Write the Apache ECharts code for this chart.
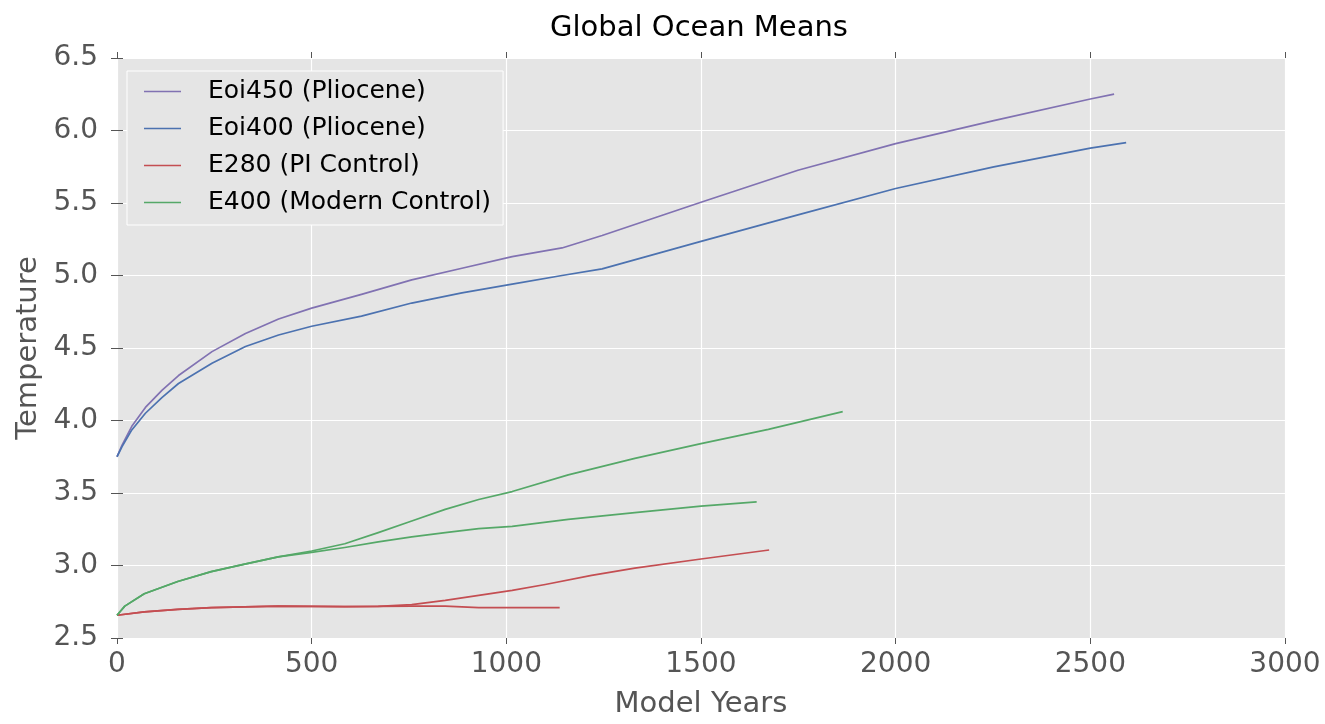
<!DOCTYPE html>
<html>
<head>
<meta charset="utf-8">
<script src="https://cdn.jsdelivr.net/npm/echarts@6/dist/echarts.min.js"></script>
<style>
html,body{margin:0;padding:0;background:#fff;}
#chart{width:1325px;height:724px;}
</style>
</head>
<body>
<div id="chart"></div>
<script>
// ---- data ----
const xTicks = [0, 500, 1000, 1500, 2000, 2500, 3000];
const yTicks = [2.5, 3.0, 3.5, 4.0, 4.5, 5.0, 5.5, 6.0, 6.5];

const seriesNames = ['Eoi450 (Pliocene)', 'Eoi400 (Pliocene)', 'E280 (PI Control)', 'E400 (Modern Control)'];

const yearsEoi450 = [0, 13, 38, 73, 116, 158, 244, 330, 415, 500, 628, 757, 886, 1015, 1143, 1246, 1500, 1749, 2000, 2252, 2500, 2561];
const tempEoi450  = [3.75, 3.83, 3.96, 4.09, 4.21, 4.31, 4.475, 4.60, 4.70, 4.775, 4.87, 4.97, 5.05, 5.13, 5.19, 5.276, 5.505, 5.726, 5.909, 6.068, 6.217, 6.251];

const yearsEoi400 = [0, 13, 38, 73, 116, 158, 244, 330, 415, 500, 628, 757, 886, 1015, 1143, 1246, 1500, 1749, 2000, 2252, 2500, 2592];
const tempEoi400  = [3.75, 3.82, 3.935, 4.05, 4.16, 4.255, 4.395, 4.51, 4.59, 4.65, 4.72, 4.81, 4.88, 4.94, 5.00, 5.046, 5.235, 5.418, 5.60, 5.749, 5.879, 5.916];

const yearsE280a = [0, 70, 156, 242, 414, 500, 585, 671, 757, 843, 929, 1015, 1100, 1219, 1330, 1500, 1675];
const tempE280a  = [2.657, 2.68, 2.698, 2.709, 2.72, 2.718, 2.716, 2.718, 2.73, 2.759, 2.794, 2.828, 2.869, 2.932, 2.982, 3.045, 3.107];

const yearsE280b = [0, 70, 156, 242, 414, 500, 585, 671, 757, 843, 929, 1015, 1137];
const tempE280b  = [2.657, 2.68, 2.698, 2.709, 2.72, 2.718, 2.716, 2.718, 2.72, 2.72, 2.709, 2.709, 2.709];

const yearsE400a = [0, 20, 70, 156, 242, 328, 414, 500, 585, 671, 757, 843, 929, 1015, 1159, 1330, 1500, 1673, 1864];
const tempE400a  = [2.657, 2.72, 2.805, 2.89, 2.958, 3.01, 3.06, 3.10, 3.15, 3.227, 3.307, 3.387, 3.455, 3.51, 3.625, 3.739, 3.841, 3.939, 4.061];

const yearsE400b = [0, 20, 70, 156, 242, 328, 414, 500, 585, 671, 757, 843, 929, 1015, 1159, 1330, 1500, 1643];
const tempE400b  = [2.657, 2.72, 2.805, 2.89, 2.958, 3.01, 3.06, 3.09, 3.124, 3.163, 3.197, 3.227, 3.254, 3.27, 3.318, 3.364, 3.409, 3.439];

const colors = ['#8172B2', '#4C72B0', '#C44E52', '#55A868'];

// ---- chart ----
const FONT = 'DejaVu Sans';
function pairs(xs, ys) { return xs.map((x, i) => [x, ys[i]]); }

function lineSeries(name, color, xs, ys) {
  return {
    type: 'line', name: name, xAxisIndex: 0, yAxisIndex: 0,
    data: pairs(xs, ys), symbol: 'none', showSymbol: false,
    smooth: false,
    lineStyle: { color: color, width: 1.7, join: 'round' }, itemStyle: { color: color },
    animation: false, z: 3
  };
}

const axisCommonX = {
  type: 'value', min: xTicks[0], max: xTicks[xTicks.length - 1], interval: 500
};
const axisCommonY = {
  type: 'value', min: yTicks[0], max: yTicks[yTicks.length - 1], interval: 0.5
};
const tickStyle = { show: true, inside: false, length: 6, lineStyle: { color: '#555555', width: 1 } };

const chart = echarts.init(document.getElementById('chart'), null, { renderer: 'canvas' });
chart.setOption({
  animation: false,
  backgroundColor: '#ffffff',
  textStyle: { fontFamily: FONT },
  title: {
    text: 'Global Ocean Means',
    left: 699, top: 14, textAlign: 'center', padding: 0,
    textStyle: { fontFamily: FONT, fontSize: 29, fontWeight: 'normal', color: '#000000' }
  },
  grid: {
    left: 117, right: 40, top: 58, bottom: 81,
    show: true, backgroundColor: '#E5E5E5', borderWidth: 0
  },
  legend: {
    orient: 'vertical', left: 127, top: 71,
    padding: [8, 12, 10, 17],
    itemWidth: 37, itemHeight: 20, itemGap: 12,
    icon: 'path://M0,0 L37,0 L37,1.7 L0,1.7 Z',
    backgroundColor: '#E5E5E5', borderColor: '#ffffff', borderWidth: 1,
    data: seriesNames,
    textStyle: { fontFamily: FONT, fontSize: 25, lineHeight: 25, color: '#000000', padding: [0, 0, 0, 22] }
  },
  xAxis: [
    Object.assign({}, axisCommonX, {
      position: 'bottom',
      axisLine: { show: false },
      axisTick: tickStyle,
      axisLabel: { fontFamily: FONT, fontSize: 28, color: '#555555', margin: 13,
                   formatter: v => String(v) },
      splitLine: { show: true, lineStyle: { color: '#ffffff', width: 1.2 } },
      name: 'Model Years', nameLocation: 'middle', nameGap: 52,
      nameTextStyle: { fontFamily: FONT, fontSize: 29, color: '#555555' }
    }),
    Object.assign({}, axisCommonX, {
      position: 'top',
      axisLine: { show: false },
      axisTick: tickStyle,
      axisLabel: { show: false },
      splitLine: { show: false }
    })
  ],
  yAxis: [
    Object.assign({}, axisCommonY, {
      position: 'left',
      axisLine: { show: false },
      axisTick: tickStyle,
      axisLabel: { fontFamily: FONT, fontSize: 28, color: '#555555', margin: 19,
                   formatter: v => v.toFixed(1) },
      splitLine: { show: true, lineStyle: { color: '#ffffff', width: 1.2 } },
      name: 'Temperature', nameLocation: 'middle', nameGap: 73,
      nameTextStyle: { fontFamily: FONT, fontSize: 29, color: '#555555' }
    }),
    Object.assign({}, axisCommonY, {
      position: 'right',
      axisLine: { show: false },
      axisTick: tickStyle,
      axisLabel: { show: false },
      splitLine: { show: false }
    })
  ],
  series: [
    lineSeries(seriesNames[0], colors[0], yearsEoi450, tempEoi450),
    lineSeries(seriesNames[1], colors[1], yearsEoi400, tempEoi400),
    lineSeries(seriesNames[2], colors[2], yearsE280a, tempE280a),
    lineSeries(seriesNames[2], colors[2], yearsE280b, tempE280b),
    lineSeries(seriesNames[3], colors[3], yearsE400a, tempE400a),
    lineSeries(seriesNames[3], colors[3], yearsE400b, tempE400b)
  ]
});
</script>
</body>
</html>
